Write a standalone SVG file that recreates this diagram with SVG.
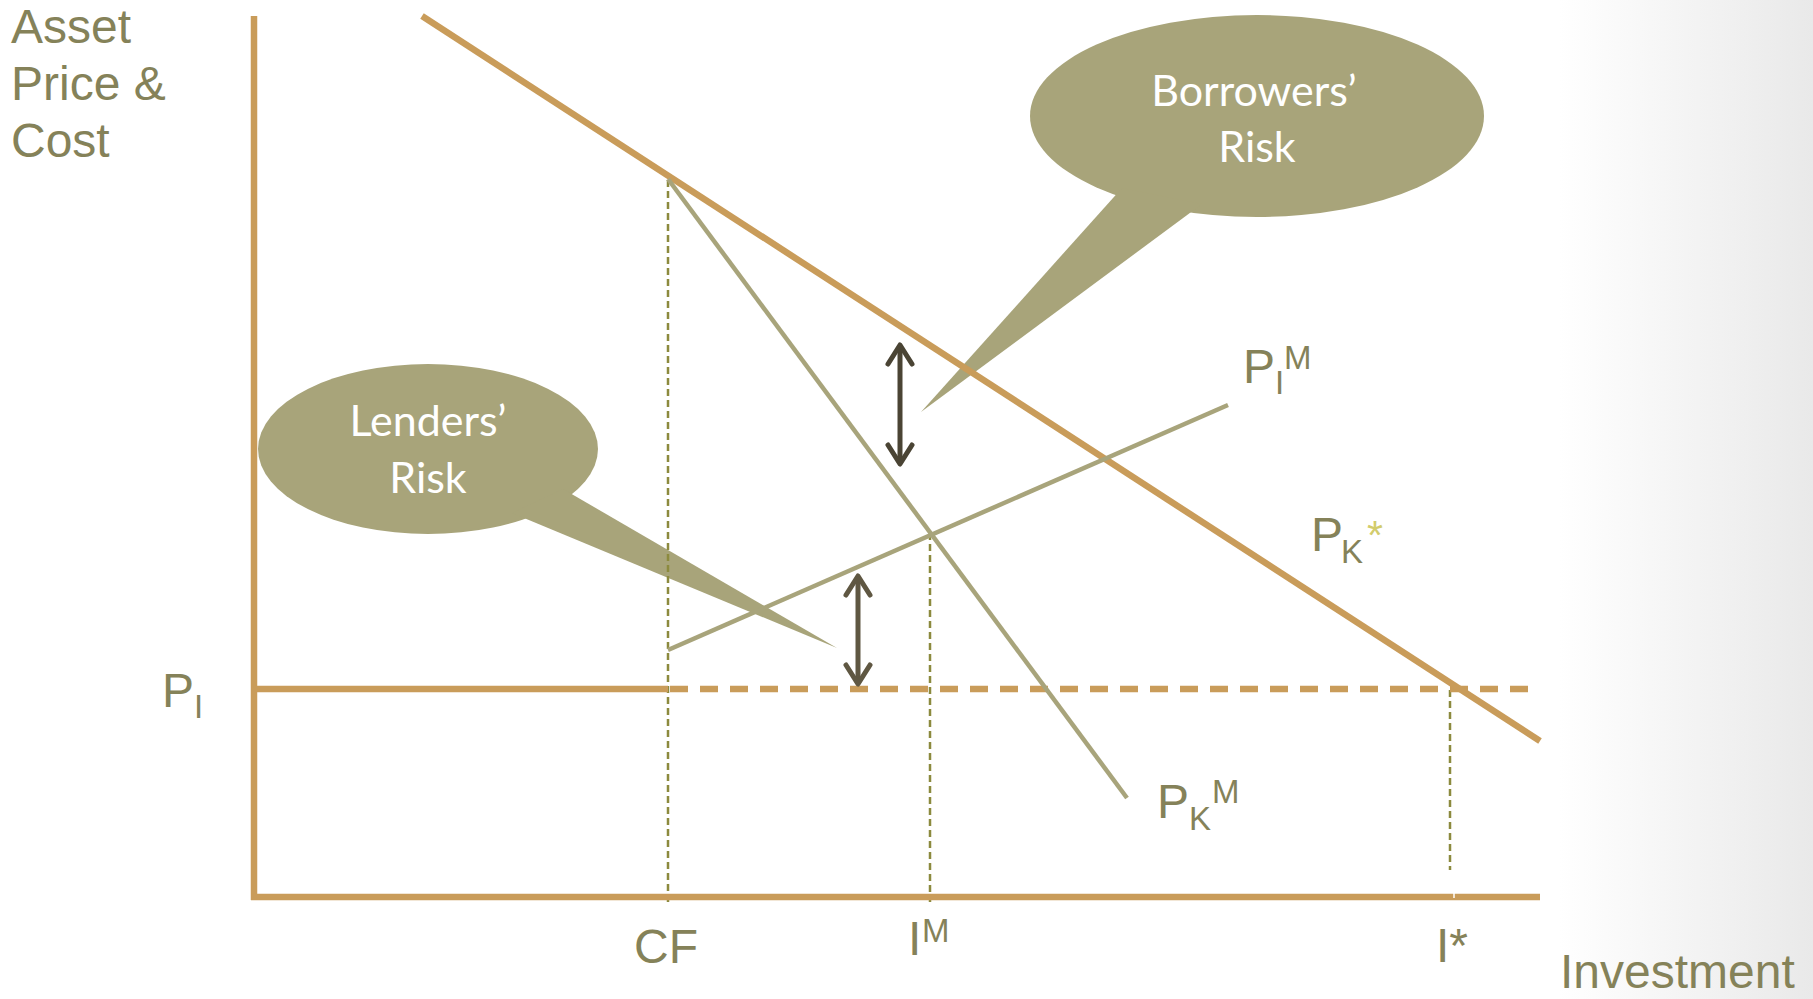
<svg xmlns="http://www.w3.org/2000/svg" width="1813" height="999" viewBox="0 0 1813 999">
<style>
.lbl{font-family:"Liberation Sans",Arial,sans-serif;fill:#858259;font-size:48px}
.sm{font-size:33px}
.bt{font-family:Lato,"Noto Sans",sans-serif;fill:#ffffff;font-size:43px;text-anchor:middle}
.orange{stroke:#C99C5A;stroke-width:6.5;fill:none}
.gray{stroke:#A8A47B;stroke-width:4.5;fill:none}
.guide{stroke:#8C8A3E;stroke-width:2.5;fill:none;stroke-dasharray:7 4}
.bubble{fill:#A8A47A}
</style>
<defs>
<linearGradient id="bg" x1="0" y1="0" x2="1" y2="0">
<stop offset="0" stop-color="#ffffff"/>
<stop offset="0.86" stop-color="#ffffff"/>
<stop offset="1" stop-color="#E9E9E9"/>
</linearGradient>
<marker id="headA" markerUnits="userSpaceOnUse" markerWidth="40" markerHeight="40" viewBox="-30 -20 40 40" refX="0" refY="0" orient="auto-start-reverse">
<path d="M-19,-12 L0,0 L-19,12" fill="none" stroke="#4A4434" stroke-width="5" stroke-linecap="round" stroke-linejoin="round"/>
</marker>
<marker id="headB" markerUnits="userSpaceOnUse" markerWidth="40" markerHeight="40" viewBox="-30 -20 40 40" refX="0" refY="0" orient="auto-start-reverse">
<path d="M-19,-12 L0,0 L-19,12" fill="none" stroke="#5F5742" stroke-width="5" stroke-linecap="round" stroke-linejoin="round"/>
</marker>
</defs>
<rect width="1813" height="999" fill="url(#bg)"/>

<g id="bubble-borrowers">
<ellipse class="bubble" cx="1257" cy="116" rx="227" ry="101"/>
<polygon class="bubble" points="1122,188 1202,204 921,412"/>
<text class="bt" x="1254" y="106">Borrowers’</text>
<text class="bt" x="1257" y="162">Risk</text>
</g>
<g id="bubble-lenders">
<ellipse class="bubble" cx="428" cy="449" rx="170" ry="85"/>
<polygon class="bubble" points="512,513 563,489 837,648"/>
<text class="bt" x="428" y="436">Lenders’</text>
<text class="bt" x="428" y="493">Risk</text>
</g>

<g id="connectors">
<line class="guide" x1="668" y1="180" x2="668" y2="905"/>
<line class="guide" x1="930" y1="533" x2="930" y2="902"/>
<line class="guide" x1="1450" y1="690" x2="1450" y2="870" stroke-width="2" stroke-dasharray="6 3"/>
<line class="orange" x1="254" y1="16" x2="254" y2="900"/>
<line class="orange" x1="251" y1="897" x2="1540" y2="897"/>
<line x1="1454" y1="893" x2="1454" y2="898" stroke="#ffffff" stroke-width="1.5"/>
<line class="orange" x1="254" y1="689" x2="668" y2="689" stroke-width="6"/>
<line class="orange" x1="670" y1="689" x2="1540" y2="689" stroke-width="5.5" stroke-dasharray="18 12"/>
<line class="orange" x1="422" y1="16" x2="1540" y2="741"/>
<line class="gray" x1="668" y1="179" x2="1127" y2="798"/>
<line class="gray" x1="668" y1="650" x2="1228" y2="405"/>
<line x1="900" y1="345" x2="900" y2="464" stroke="#4A4434" stroke-width="5" marker-start="url(#headA)" marker-end="url(#headA)"/>
<line x1="858" y1="576" x2="858" y2="684" stroke="#5F5742" stroke-width="5" marker-start="url(#headB)" marker-end="url(#headB)"/>
</g>

<g id="axis-labels">
<text class="lbl" x="11" y="43">Asset</text>
<text class="lbl" x="11" y="100">Price &amp;</text>
<text class="lbl" x="11" y="157">Cost</text>
<text class="lbl" x="1560" y="988">Investment</text>
</g>
<g id="label-PI">
<text class="lbl" x="162" y="707">P</text>
<text class="lbl sm" x="194" y="718">I</text>
</g>
<g id="label-PIM">
<text class="lbl" x="1243" y="383">P</text>
<text class="lbl sm" x="1275" y="394">I</text>
<text class="lbl sm" x="1284" y="369">M</text>
</g>
<g id="label-PKstar">
<text class="lbl" x="1311" y="551">P</text>
<text class="lbl sm" x="1341" y="563">K</text>
<text class="lbl" x="1367" y="549" style="font-size:41px;fill:#D2CC6C">*</text>
</g>
<g id="label-PKM">
<text class="lbl" x="1157" y="818">P</text>
<text class="lbl sm" x="1189" y="830">K</text>
<text class="lbl sm" x="1212" y="803">M</text>
</g>
<g id="label-CF">
<text class="lbl" x="634" y="963">CF</text>
</g>
<g id="label-IM">
<text class="lbl" x="908" y="955">I</text>
<text class="lbl sm" x="922" y="942">M</text>
</g>
<g id="label-Istar">
<text class="lbl" x="1436" y="962">I*</text>
</g>
</svg>
